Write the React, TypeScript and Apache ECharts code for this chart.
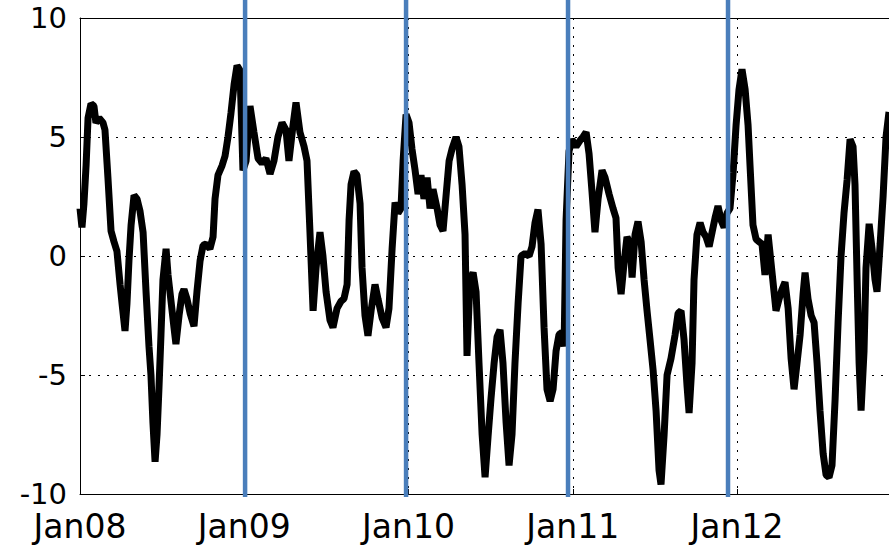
import React, { useEffect, useRef } from "react";
import * as echarts from "echarts";

// decimal years of the traced points
const years = [
  2008.000, 2008.012, 2008.024, 2008.037, 2008.049, 2008.067, 2008.085, 2008.097, 2008.116, 2008.140,
  2008.152, 2008.170, 2008.189, 2008.207, 2008.225, 2008.244, 2008.256, 2008.274, 2008.286, 2008.298,
  2008.311, 2008.329, 2008.347, 2008.365, 2008.384, 2008.402, 2008.420, 2008.432, 2008.444, 2008.457,
  2008.469, 2008.481, 2008.493, 2008.505, 2008.524, 2008.536, 2008.554, 2008.572, 2008.584, 2008.603,
  2008.621, 2008.633, 2008.651, 2008.670, 2008.694, 2008.712, 2008.731, 2008.749, 2008.767, 2008.791,
  2008.810, 2008.822, 2008.840, 2008.865, 2008.883, 2008.901, 2008.919, 2008.938, 2008.956, 2008.974,
  2008.992, 2009.011, 2009.035, 2009.059, 2009.084, 2009.108, 2009.132, 2009.157, 2009.181, 2009.205,
  2009.230, 2009.254, 2009.272, 2009.297, 2009.315, 2009.339, 2009.364, 2009.382, 2009.400, 2009.419,
  2009.437, 2009.461, 2009.479, 2009.498, 2009.522, 2009.540, 2009.565, 2009.589, 2009.607, 2009.626,
  2009.638, 2009.650, 2009.668, 2009.686, 2009.705, 2009.717, 2009.735, 2009.753, 2009.772, 2009.796,
  2009.814, 2009.839, 2009.863, 2009.881, 2009.900, 2009.918, 2009.936, 2009.954, 2009.967, 2009.985,
  2010.003, 2010.021, 2010.040, 2010.058, 2010.076, 2010.094, 2010.113, 2010.131, 2010.149, 2010.174,
  2010.192, 2010.210, 2010.228, 2010.247, 2010.265, 2010.289, 2010.307, 2010.326, 2010.344, 2010.356,
  2010.374, 2010.393, 2010.411, 2010.429, 2010.448, 2010.466, 2010.484, 2010.502, 2010.521, 2010.539,
  2010.557, 2010.575, 2010.594, 2010.612, 2010.630, 2010.648, 2010.667, 2010.685, 2010.709, 2010.734,
  2010.752, 2010.770, 2010.788, 2010.807, 2010.825, 2010.843, 2010.862, 2010.880, 2010.898, 2010.916,
  2010.935, 2010.947, 2010.959, 2010.977, 2010.995, 2011.020, 2011.044, 2011.062, 2011.081, 2011.099,
  2011.117, 2011.135, 2011.154, 2011.178, 2011.196, 2011.221, 2011.245, 2011.263, 2011.276, 2011.294,
  2011.312, 2011.330, 2011.349, 2011.361, 2011.379, 2011.397, 2011.416, 2011.434, 2011.452, 2011.470,
  2011.489, 2011.507, 2011.525, 2011.537, 2011.556, 2011.574, 2011.598, 2011.623, 2011.641, 2011.659,
  2011.677, 2011.696, 2011.708, 2011.726, 2011.738, 2011.756, 2011.775, 2011.793, 2011.811, 2011.830,
  2011.848, 2011.866, 2011.884, 2011.903, 2011.921, 2011.939, 2011.957, 2011.976, 2011.994, 2012.012,
  2012.030, 2012.049, 2012.067, 2012.079, 2012.097, 2012.116, 2012.134, 2012.152, 2012.170, 2012.189,
  2012.207, 2012.225, 2012.237, 2012.256, 2012.274, 2012.292, 2012.311, 2012.329, 2012.347, 2012.365,
  2012.384, 2012.402, 2012.414, 2012.432, 2012.451, 2012.469, 2012.487, 2012.505, 2012.524, 2012.542,
  2012.560, 2012.578, 2012.597, 2012.615, 2012.633, 2012.651, 2012.670, 2012.688, 2012.706, 2012.718,
  2012.731, 2012.743, 2012.755, 2012.773, 2012.785, 2012.804, 2012.822, 2012.840, 2012.852, 2012.871,
  2012.889, 2012.907, 2012.925,
];

const values = [
  2.0, 1.2, 2.2, 3.8, 5.8, 6.4, 6.3, 5.6, 5.8, 5.6,
  5.3, 3.3, 1.05, 0.6, 0.2, -1.2, -2.0, -3.15, -2.0, -0.2,
  1.3, 2.55, 2.4, 1.9, 1.0, -1.5, -3.8, -5.0, -7.0, -8.65,
  -7.5, -5.5, -3.3, -1.0, 0.3, -0.8, -1.9, -3.0, -3.7, -2.5,
  -1.6, -1.4, -1.8, -2.4, -2.95, -1.5, -0.2, 0.45, 0.5, 0.3,
  0.8, 2.4, 3.4, 3.8, 4.2, 5.0, 6.0, 7.2, 8.0, 7.8,
  3.6, 4.0, 6.3, 5.2, 4.1, 3.9, 4.1, 3.45, 4.0, 5.0,
  5.6, 5.3, 4.0, 5.5, 6.45, 5.2, 4.6, 4.0, 1.0, -2.3,
  -0.5, 1.0, 0.0, -1.5, -2.7, -3.0, -2.2, -1.9, -1.8, -1.2,
  1.5, 3.0, 3.55, 3.4, 2.2, -0.5, -2.5, -3.35, -2.3, -1.2,
  -1.8, -2.6, -3.0, -2.2, 0.3, 2.25, 1.8, 2.0, 4.0, 5.95,
  5.6, 4.5, 3.6, 2.6, 3.4, 2.4, 3.3, 2.0, 2.8, 2.0,
  1.3, 1.05, 2.5, 4.0, 4.5, 5.0, 4.6, 3.0, 0.9, -4.2,
  -1.0, -0.7, -1.5, -4.5, -7.5, -9.3, -7.6, -6.0, -4.5, -3.4,
  -3.1, -4.5, -7.0, -8.8, -7.5, -4.5, -2.0, 0.0, 0.1, 0.0,
  0.4, 1.4, 1.95, 0.5, -3.0, -5.6, -6.1, -5.6, -4.0, -3.3,
  -3.2, -3.8, 1.5, 4.4, 4.9, 4.6, 4.85, 5.0, 5.2, 4.3,
  2.7, 1.0, 2.4, 3.6, 3.3, 2.6, 2.0, 1.6, -0.5, -1.6,
  -0.3, 0.8, 0.5, -0.9, 0.9, 1.45, 0.6, -1.0, -2.3, -3.5,
  -4.8, -6.5, -9.0, -9.6, -7.5, -5.0, -4.3, -3.3, -2.4, -2.3,
  -3.5, -5.5, -6.6, -4.5, -1.0, 0.9, 1.4, 1.0, 0.8, 0.4,
  1.0, 1.6, 2.1, 1.5, 1.2, 1.8, 2.0, 3.5, 5.5, 7.0,
  7.85, 7.0, 5.5, 3.8, 1.3, 0.7, 0.6, 0.5, -0.8, 0.9,
  -0.3, -1.5, -2.3, -1.8, -1.4, -1.1, -2.2, -4.3, -5.6, -4.5,
  -3.3, -1.6, -0.7, -1.8, -2.5, -2.8, -4.5, -6.5, -8.3, -9.2,
  -9.3, -8.8, -6.0, -2.8, 0.0, 1.8, 3.2, 4.9, 4.6, 3.0,
  -1.0, -4.5, -6.5, -4.0, -0.5, 1.35, 0.3, -1.0, -1.5, 0.5,
  2.5, 5.0, 6.05,
];

const xMin = 2008;
const xMax = 2012.925; // the visible window ends here (plot runs past the picture edge)
const yMin = -10;
const yMax = 10;
const yInterval = 5;

// hand-drawn year markers (decimal years)
const markerYears = [2009.005, 2009.985, 2010.971, 2011.945];

export default function App() {
  const ref = useRef<HTMLDivElement>(null);

  useEffect(() => {
    if (!ref.current) return;
    const chart = echarts.init(ref.current, null, { renderer: "svg" });
    const gridLine = {
      show: true,
      showMaxLine: false,
      lineStyle: { color: "#000", type: [2, 7], width: 1 },
    };
    chart.setOption({
      animation: false,
      backgroundColor: "#fff",
      grid: { left: 80, right: 0, top: 18, bottom: 52 },
      xAxis: [
        {
          type: "value",
          min: xMin,
          max: xMax,
          interval: 1,
          position: "bottom",
          axisLine: { show: true, onZero: false, lineStyle: { color: "#000", width: 1 } },
          axisTick: { show: true, inside: true, length: 5, lineStyle: { color: "#000" } },
          axisLabel: {
            color: "#000",
            fontFamily: "DejaVu Sans",
            fontSize: 33,
            lineHeight: 30,
            margin: 17,
            showMaxLabel: false,
            formatter: (v: number) =>
              Math.abs(v - Math.round(v)) < 1e-6
                ? "Jan" + String(Math.round(v) % 100).padStart(2, "0")
                : "",
          },
          splitLine: gridLine,
        },
        {
          type: "value",
          min: xMin,
          max: xMax,
          position: "top",
          axisLine: { show: true, onZero: false, lineStyle: { color: "#000", width: 1 } },
          axisTick: { show: false },
          axisLabel: { show: false },
          splitLine: { show: false },
        },
      ],
      yAxis: {
        type: "value",
        min: yMin,
        max: yMax,
        interval: yInterval,
        axisLine: { show: true, lineStyle: { color: "#000", width: 1 } },
        axisTick: { show: true, inside: true, length: 5, lineStyle: { color: "#000" } },
        axisLabel: {
          color: "#000",
          fontFamily: "DejaVu Sans",
          fontSize: 29,
          lineHeight: 22,
          margin: 13,
          padding: [5, 0, 0, 0],
        },
        splitLine: gridLine,
      },
      series: [
        {
          type: "line",
          xAxisIndex: 0,
          data: years.map((t, i) => [t, values[i]]),
          showSymbol: false,
          symbol: "none",
          lineStyle: { color: "#000", width: 7 },
          z: 3,
        },
      ],
    });

    const xs = markerYears.map((y) => chart.convertToPixel({ xAxisIndex: 0 }, y) as number);
    chart.setOption({
      graphic: xs.map((x) => ({
        type: "line",
        shape: { x1: x, y1: 0, x2: x, y2: 497 },
        style: { stroke: "#4a7ebb", lineWidth: 4.5 },
        z: 100,
      })),
    });

    return () => chart.dispose();
  }, []);

  return (
    <div
      ref={ref}
      style={{ position: "fixed", left: 0, top: 0, width: 889, height: 546 }}
    />
  );
}
